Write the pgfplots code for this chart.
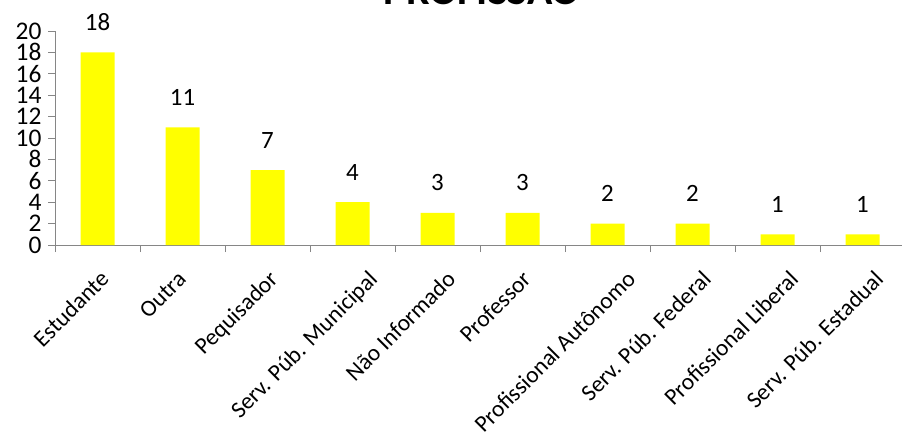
\documentclass[border=0pt]{standalone}
\usepackage{pgfplots}
\pgfplotsset{compat=1.18}
\usepackage{fontspec}
\setmainfont{Carlito}
\definecolor{barfill}{RGB}{255,255,0}
\definecolor{axisgray}{RGB}{134,134,134}
% rotated label, pushed right by about 1.41*#1 bp (Excel-like placement)
\newcommand\lbl[2]{\rule{0pt}{\dimexpr0.8em+#1bp\relax}#2\kern-#1bp\mbox{}}
\begin{document}
\begin{tikzpicture}
\begin{axis}[
    at={(55bp,192bp)}, anchor=south west,
    scale only axis, width=850bp, height=214bp,
    xmin=-0.5, xmax=9.5, ymin=0, ymax=20,
    axis lines*=left,
    axis line style={axisgray, line width=1pt},
    ybar, bar width=34bp,
    xtick={-0.5,0.5,...,9.5}, xticklabels={},
    extra x ticks={0,...,9},
    extra x tick labels={\lbl{6}{Estudante},\lbl{0.4}{Outra},\lbl{5.3}{Pequisador},\lbl{15.6}{Serv. Púb. Municipal},\lbl{10.6}{Não Informado},\lbl{3.9}{Professor},\lbl{17.7}{Profissional Autônomo},\lbl{11}{Serv. Púb. Federal},\lbl{12.7}{Profissional Liberal},\lbl{12.7}{Serv. Púb. Estadual}},
    extra x tick style={major tick length=0pt,
        tick label style={yshift=-17.5bp, xshift=-9bp, rotate=45, anchor=north east, font=\fontsize{23.5}{23.5}\selectfont}},
    ytick={0,2,...,20},
    y tick label style={font=\fontsize{25.5}{25.5}\selectfont, xshift=-3bp},
    tick style={axisgray, line width=1pt},
    major tick length=7bp,
    tick align=outside,
    /pgf/number format/assume math mode=true,
    nodes near coords,
    every node near coord/.append style={font=\fontsize{25}{25}\selectfont, anchor=base, yshift=22bp, black},
    clip=false,
]
\addplot[fill=barfill, draw=none] coordinates {(0,18) (1,11) (2,7) (3,4) (4,3) (5,3) (6,2) (7,2) (8,1) (9,1)};
\end{axis}
\node[font=\bfseries\fontsize{42}{42}\selectfont, anchor=base] at (482bp,432bp) {PROFISSÃO};
\pgfresetboundingbox
\path[use as bounding box] (0,0) rectangle (902bp,437bp);
\end{tikzpicture}
\end{document}
